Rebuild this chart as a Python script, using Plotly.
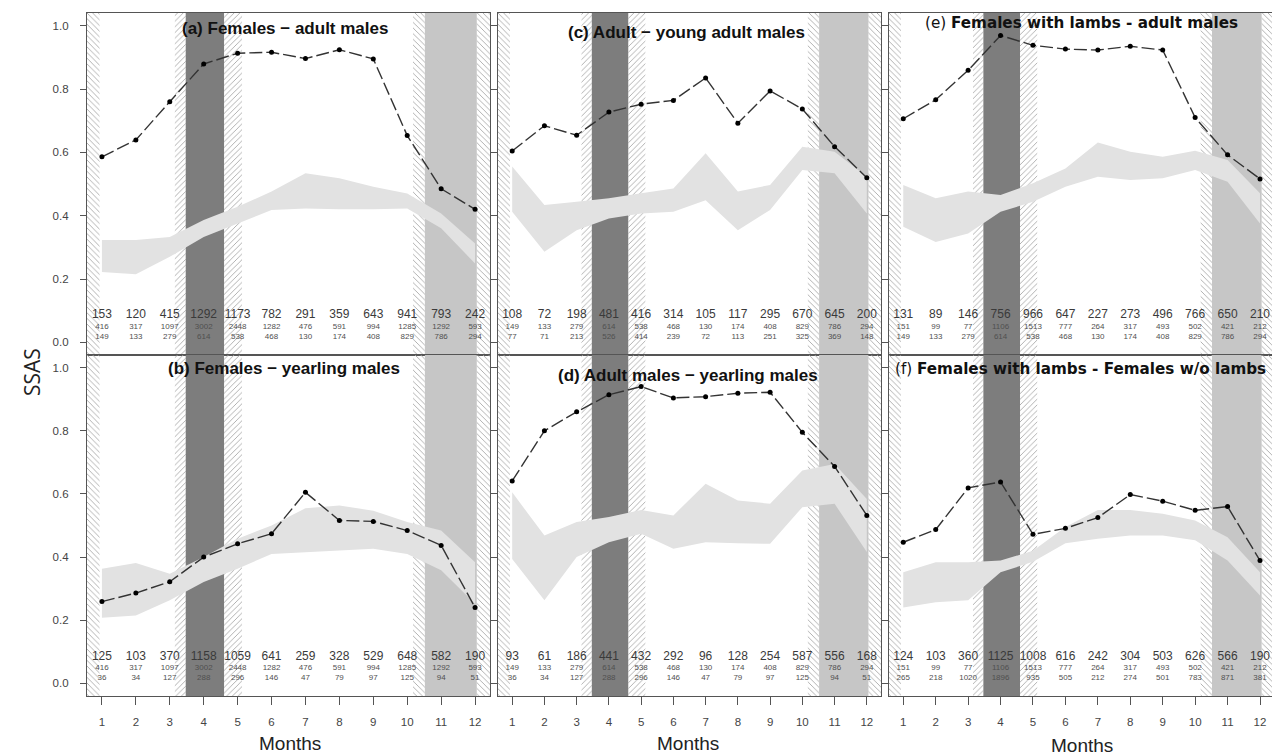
import plotly.graph_objects as go

months = list(range(1, 13))
month_labels = [str(m) for m in months]
y_tick_vals = [0.0, 0.2, 0.4, 0.6, 0.8, 1.0]
y_tick_text = ["0.0", "0.2", "0.4", "0.6", "0.8", "1.0"]

# ---- panel (a) Females - adult males
title_a = "(a) Females \u2212 adult males"
ssas_a = [0.586, 0.639, 0.760, 0.879, 0.913, 0.916, 0.896, 0.924, 0.895, 0.653, 0.485, 0.420]
upper_a = [0.323, 0.323, 0.333, 0.386, 0.428, 0.476, 0.534, 0.518, 0.491, 0.470, 0.407, 0.312]
lower_a = [0.222, 0.215, 0.270, 0.333, 0.375, 0.418, 0.423, 0.420, 0.420, 0.423, 0.360, 0.249]
n_top_a = [153, 120, 415, 1292, 1173, 782, 291, 359, 643, 941, 793, 242]
n_mid_a = [416, 317, 1097, 3002, 2448, 1282, 476, 591, 994, 1285, 1292, 593]
n_bot_a = [149, 133, 279, 614, 538, 468, 130, 174, 408, 829, 786, 294]

# ---- panel (b) Females - yearling males
title_b = "(b) Females \u2212 yearling males"
ssas_b = [0.259, 0.286, 0.322, 0.400, 0.442, 0.474, 0.605, 0.516, 0.513, 0.484, 0.437, 0.240]
upper_b = [0.363, 0.381, 0.347, 0.400, 0.458, 0.500, 0.555, 0.563, 0.547, 0.511, 0.484, 0.384]
lower_b = [0.208, 0.215, 0.263, 0.321, 0.363, 0.410, 0.416, 0.421, 0.426, 0.410, 0.358, 0.252]
n_top_b = [125, 103, 370, 1158, 1059, 641, 259, 328, 529, 648, 582, 190]
n_mid_b = [416, 317, 1097, 3002, 2448, 1282, 476, 591, 994, 1285, 1292, 593]
n_bot_b = [36, 34, 127, 288, 296, 146, 47, 79, 97, 125, 94, 51]

# ---- panel (c) Adult - young adult males
title_c = "(c) Adult \u2212 young adult males"
ssas_c = [0.604, 0.684, 0.654, 0.727, 0.752, 0.764, 0.835, 0.692, 0.794, 0.737, 0.618, 0.520]
upper_c = [0.555, 0.434, 0.444, 0.455, 0.471, 0.486, 0.597, 0.476, 0.497, 0.618, 0.602, 0.523]
lower_c = [0.412, 0.286, 0.354, 0.391, 0.407, 0.412, 0.449, 0.354, 0.418, 0.544, 0.534, 0.407]
n_top_c = [108, 72, 198, 481, 416, 314, 105, 117, 295, 670, 645, 200]
n_mid_c = [149, 133, 279, 614, 538, 468, 130, 174, 408, 829, 786, 294]
n_bot_c = [77, 71, 213, 526, 414, 239, 72, 113, 251, 325, 369, 148]

# ---- panel (d) Adult males - yearling males
title_d = "(d) Adult males \u2212 yearling males"
ssas_d = [0.641, 0.800, 0.860, 0.914, 0.940, 0.904, 0.908, 0.919, 0.922, 0.795, 0.687, 0.532]
upper_d = [0.605, 0.468, 0.511, 0.527, 0.549, 0.532, 0.632, 0.579, 0.569, 0.674, 0.695, 0.584]
lower_d = [0.394, 0.263, 0.400, 0.447, 0.474, 0.426, 0.447, 0.444, 0.442, 0.558, 0.569, 0.416]
n_top_d = [93, 61, 186, 441, 432, 292, 96, 128, 254, 587, 556, 168]
n_mid_d = [149, 133, 279, 614, 538, 468, 130, 174, 408, 829, 786, 294]
n_bot_d = [36, 34, 127, 288, 296, 146, 47, 79, 97, 125, 94, 51]

# ---- panel (e) Females with lambs - adult males
title_e = "(e) <b>Females with lambs - adult males</b>"
ssas_e = [0.706, 0.766, 0.859, 0.969, 0.938, 0.926, 0.923, 0.935, 0.923, 0.710, 0.592, 0.516]
upper_e = [0.497, 0.455, 0.476, 0.465, 0.502, 0.549, 0.631, 0.602, 0.586, 0.605, 0.576, 0.471]
lower_e = [0.365, 0.317, 0.344, 0.412, 0.444, 0.491, 0.523, 0.513, 0.518, 0.544, 0.507, 0.375]
n_top_e = [131, 89, 146, 756, 966, 647, 227, 273, 496, 766, 650, 210]
n_mid_e = [151, 99, 77, 1106, 1513, 777, 264, 317, 493, 502, 421, 212]
n_bot_e = [149, 133, 279, 614, 538, 468, 130, 174, 408, 829, 786, 294]

# ---- panel (f) Females with lambs - Females w/o lambs
title_f = "(f) <b>Females with lambs - Females w/o lambs</b>"
ssas_f = [0.447, 0.487, 0.619, 0.638, 0.472, 0.491, 0.525, 0.598, 0.577, 0.548, 0.560, 0.389]
upper_f = [0.352, 0.384, 0.384, 0.389, 0.420, 0.495, 0.549, 0.549, 0.537, 0.516, 0.463, 0.352]
lower_f = [0.240, 0.257, 0.263, 0.352, 0.385, 0.444, 0.458, 0.468, 0.468, 0.453, 0.389, 0.278]
n_top_f = [124, 103, 360, 1125, 1008, 616, 242, 304, 503, 626, 566, 190]
n_mid_f = [151, 99, 77, 1106, 1513, 777, 264, 317, 493, 502, 421, 212]
n_bot_f = [265, 218, 1020, 1896, 935, 505, 212, 274, 501, 783, 871, 381]

# ---- seasonal background periods (month start, month end, kind)
season_start = [0.56, 3.15, 3.47, 4.60, 10.17, 10.52, 12.05]
season_end = [0.93, 3.47, 4.60, 5.13, 10.52, 12.05, 12.44]
season_kind = ["hatch\\", "hatch/", "dark", "hatch/", "hatch\\", "light", "hatch\\"]

# ---- styling / layout
FILL_BAND = "#e2e2e2"
DARK = "#7d7d7d"
LIGHT = "#c6c6c6"
HATCH = "#a8a8a8"
AXIS_LINE = "#555555"
TICK_FONT = dict(family="Liberation Sans, Arial, sans-serif", size=11.5, color="#444444")

panels = [
    dict(ax=1, title=title_a, s=ssas_a, up=upper_a, lo=lower_a, n=(n_top_a, n_mid_a, n_bot_a), ty=0.992, tx=6.4, fam="arial"),
    dict(ax=2, title=title_c, s=ssas_c, up=upper_c, lo=lower_c, n=(n_top_c, n_mid_c, n_bot_c), ty=0.978, tx=6.4, fam="arial"),
    dict(ax=3, title=title_e, s=ssas_e, up=upper_e, lo=lower_e, n=(n_top_e, n_mid_e, n_bot_e), ty=1.008, tx=6.5, fam="dejavu"),
    dict(ax=4, title=title_b, s=ssas_b, up=upper_b, lo=lower_b, n=(n_top_b, n_mid_b, n_bot_b), ty=0.996, tx=6.37, fam="arial"),
    dict(ax=5, title=title_d, s=ssas_d, up=upper_d, lo=lower_d, n=(n_top_d, n_mid_d, n_bot_d), ty=0.975, tx=6.45, fam="arial"),
    dict(ax=6, title=title_f, s=ssas_f, up=upper_f, lo=lower_f, n=(n_top_f, n_mid_f, n_bot_f), ty=0.996, tx=6.45, fam="dejavu"),
]

fig = go.Figure()

bar_x = [(a + b) / 2 for a, b in zip(season_start, season_end)]
bar_w = [b - a for a, b in zip(season_start, season_end)]
bar_col = [DARK if k == "dark" else LIGHT if k == "light" else HATCH for k in season_kind]
bar_pat = ["/" if k == "hatch/" else "\\" if k == "hatch\\" else "" for k in season_kind]

for p in panels:
    i = p["ax"]
    xa = "x" if i == 1 else f"x{i}"
    ya = "y" if i == 1 else f"y{i}"
    # seasonal background
    fig.add_trace(go.Bar(
        x=bar_x, y=[1.3] * len(bar_x), base=-0.15, width=bar_w,
        marker=dict(color=bar_col, line=dict(width=0),
                    pattern=dict(shape=bar_pat, size=4, solidity=0.22, fillmode="replace", bgcolor="white")),
        xaxis=xa, yaxis=ya, showlegend=False, hoverinfo="skip"))
    # null-model band
    fig.add_trace(go.Scatter(
        x=months + months[::-1], y=p["up"] + p["lo"][::-1], fill="toself",
        fillcolor=FILL_BAND, line=dict(width=0), mode="lines",
        xaxis=xa, yaxis=ya, showlegend=False, hoverinfo="skip"))
    # observed SSAS
    fig.add_trace(go.Scatter(
        x=months, y=p["s"], mode="lines+markers",
        line=dict(color="#333333", width=1.4, dash="13px,4px"),
        marker=dict(color="black", size=5),
        xaxis=xa, yaxis=ya, showlegend=False))
    # sample sizes
    top, mid, bot = p["n"]
    fig.add_trace(go.Scatter(
        x=months, y=[0.085] * 12, mode="text", text=[str(v) for v in top],
        textfont=dict(family="Liberation Sans, Arial, sans-serif", size=12, color="#3a3a3a"),
        xaxis=xa, yaxis=ya, showlegend=False, hoverinfo="skip", cliponaxis=False))
    fig.add_trace(go.Scatter(
        x=months, y=[0.049] * 12, mode="text", text=[str(v) for v in mid],
        textfont=dict(family="Liberation Sans, Arial, sans-serif", size=8, color="#505050"),
        xaxis=xa, yaxis=ya, showlegend=False, hoverinfo="skip", cliponaxis=False))
    fig.add_trace(go.Scatter(
        x=months, y=[0.016] * 12, mode="text", text=[str(v) for v in bot],
        textfont=dict(family="Liberation Sans, Arial, sans-serif", size=8, color="#505050"),
        xaxis=xa, yaxis=ya, showlegend=False, hoverinfo="skip", cliponaxis=False))
    # panel title
    if p["fam"] == "arial":
        tfont = dict(family="Liberation Sans, Arial, sans-serif", size=17, color="#111111")
        ttext = "<b>" + p["title"] + "</b>"
    else:
        tfont = dict(family="DejaVu Sans, Verdana, sans-serif", size=15.2, color="#111111")
        ttext = p["title"]
    fig.add_annotation(x=p["tx"], y=p["ty"], xref=xa, yref=ya, text=ttext,
                       showarrow=False, font=tfont, xanchor="center", yanchor="middle")

W, H = 1272, 755
x_dom = [(87 / W, 490 / W), (498 / W, 881 / W), (889 / W, 1.0)]
x_rng = [[0.56, 12.44], [0.56, 12.44], [0.56, 12.37]]
y_dom = [(1 - 355 / H, 1 - 13 / H), (1 - 696 / H, 1 - 355 / H)]

layout = dict(
    width=W, height=H, margin=dict(l=0, r=0, t=0, b=0),
    paper_bgcolor="white", plot_bgcolor="white", barmode="overlay",
    showlegend=False,
)
for i in range(1, 7):
    row = 0 if i <= 3 else 1
    col = (i - 1) % 3
    xk = "xaxis" if i == 1 else f"xaxis{i}"
    yk = "yaxis" if i == 1 else f"yaxis{i}"
    ya = "y" if i == 1 else f"y{i}"
    xa = "x" if i == 1 else f"x{i}"
    layout[xk] = dict(
        domain=list(x_dom[col]), range=x_rng[col], anchor=ya,
        showgrid=False, zeroline=False, showline=True, mirror=True,
        linecolor=AXIS_LINE, linewidth=1.3,
        tickvals=months, ticktext=month_labels,
        ticks="outside" if row == 1 else "", ticklen=8, tickcolor=AXIS_LINE,
        showticklabels=(row == 1), tickfont=TICK_FONT, ticklabelstandoff=7,
        fixedrange=True,
    )
    layout[yk] = dict(
        domain=list(y_dom[row]), range=[-0.04, 1.04], anchor=xa,
        showgrid=False, zeroline=False, showline=True, mirror=True,
        linecolor=AXIS_LINE, linewidth=1.3,
        tickvals=y_tick_vals, ticktext=y_tick_text,
        ticks="outside", ticklen=6, tickcolor=AXIS_LINE,
        showticklabels=(col == 0), tickfont=TICK_FONT, ticklabelstandoff=9,
        fixedrange=True,
    )

fig.update_layout(**layout)

# axis titles
fig.add_annotation(x=32 / W, y=1 - 372 / H, xref="paper", yref="paper", text="SSAS",
                   textangle=-90, showarrow=False, xanchor="center", yanchor="middle",
                   font=dict(family="Open Sans, Lato, sans-serif", size=21, color="#222222"))
for cx, cy in [(290, 743), (688, 743), (1082, 745)]:
    fig.add_annotation(x=cx / W, y=1 - cy / H, xref="paper", yref="paper", text="Months",
                       showarrow=False, xanchor="center", yanchor="middle",
                       font=dict(family="Liberation Sans, Arial, sans-serif", size=19, color="#222222"))

fig.write_html("out.html", config={"displayModeBar": False},
               post_script="document.body.style.margin='0';document.body.style.overflow='hidden';")
